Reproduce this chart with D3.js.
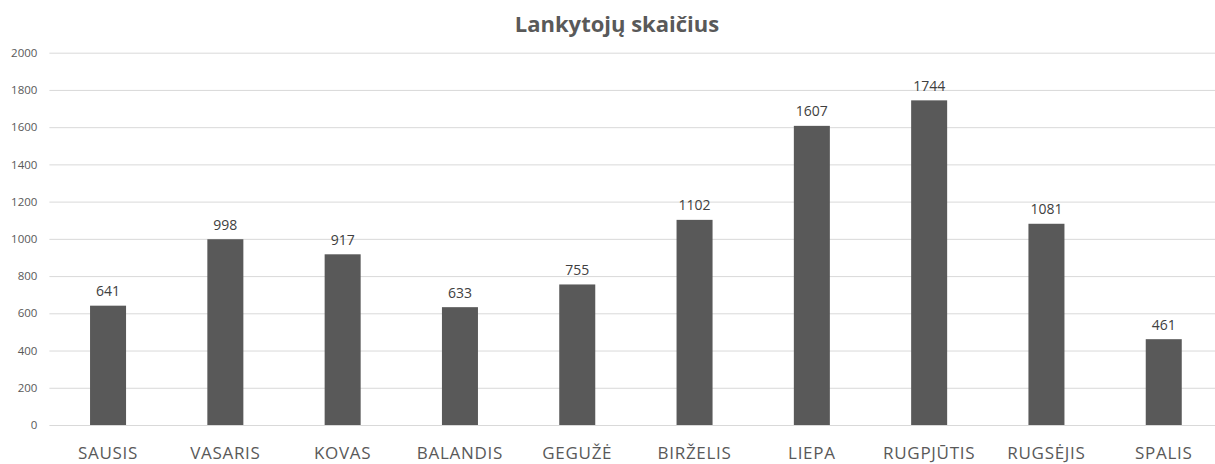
<!DOCTYPE html>
<html>
<head>
<meta charset="utf-8">
<script src="https://cdn.jsdelivr.net/npm/d3@7"></script>
<style>
  body { margin: 0; background: #fff; }
  svg { display: block; }
  svg text { font-family: 'Open Sans', sans-serif; }
</style>
</head>
<body>
<div id="chart"></div>
<script>
// Data
const months = ['SAUSIS', 'VASARIS', 'KOVAS', 'BALANDIS', 'GEGUŽĖ', 'BIRŽELIS', 'LIEPA', 'RUGPJŪTIS', 'RUGSĖJIS', 'SPALIS'];
const visitors = [641, 998, 917, 633, 755, 1102, 1607, 1744, 1081, 461];
const yTicks = [0, 200, 400, 600, 800, 1000, 1200, 1400, 1600, 1800, 2000];
const title = 'Lankytojų skaičius';

const width = 1215;
const height = 464;

const svg = d3.select('#chart')
  .append('svg')
  .attr('width', width)
  .attr('height', height);

// scales
const x = d3.scaleBand()
  .domain(months)
  .range([49.4, 1222.4])
  .paddingInner(0.693)
  .paddingOuter(0.3465);

const y = d3.scaleLinear()
  .domain([0, 2000])
  .range([425, 52.7]);

// gridlines + y labels
const yAxis = d3.axisLeft(y)
  .tickValues(yTicks)
  .tickFormat(d3.format('d'))
  .tickSize(-(1222 - 49.4))
  .tickPadding(12);

svg.append('g')
  .attr('transform', 'translate(49.4,0)')
  .call(yAxis)
  .call((g) => g.select('.domain').remove())
  .call((g) => g.selectAll('.tick line').attr('stroke', '#d9d9d9').attr('stroke-width', 1))
  .call((g) => g.selectAll('.tick text')
    .attr('fill', '#595959')
    .style('font-size', '11.5px'));

// bars
svg.append('g')
  .selectAll('rect')
  .data(months)
  .join('rect')
  .attr('x', (d) => x(d))
  .attr('y', (d, i) => y(visitors[i]))
  .attr('width', x.bandwidth())
  .attr('height', (d, i) => y(0) - y(visitors[i]))
  .attr('fill', '#595959');

// value labels
svg.append('g')
  .selectAll('text')
  .data(months)
  .join('text')
  .attr('x', (d) => x(d) + x.bandwidth() / 2)
  .attr('y', (d, i) => y(visitors[i]) - 9.5)
  .attr('text-anchor', 'middle')
  .attr('fill', '#404040')
  .style('font-size', '14px')
  .text((d, i) => visitors[i]);

// x axis labels
const xAxis = d3.axisBottom(x).tickSize(0).tickPadding(0);
svg.append('g')
  .attr('transform', 'translate(0,425)')
  .call(xAxis)
  .call((g) => g.select('.domain').remove())
  .call((g) => g.selectAll('.tick text')
    .attr('y', 34)
    .attr('dy', 0)
    .attr('fill', '#595959')
    .style('font-size', '17px')
    .style('letter-spacing', '0.7px'));

// title
svg.append('text')
  .attr('x', 617)
  .attr('y', 32)
  .attr('text-anchor', 'middle')
  .attr('fill', '#595959')
  .style('font-size', '22px')
  .style('font-weight', 'bold')
  .text(title);
</script>
</body>
</html>
